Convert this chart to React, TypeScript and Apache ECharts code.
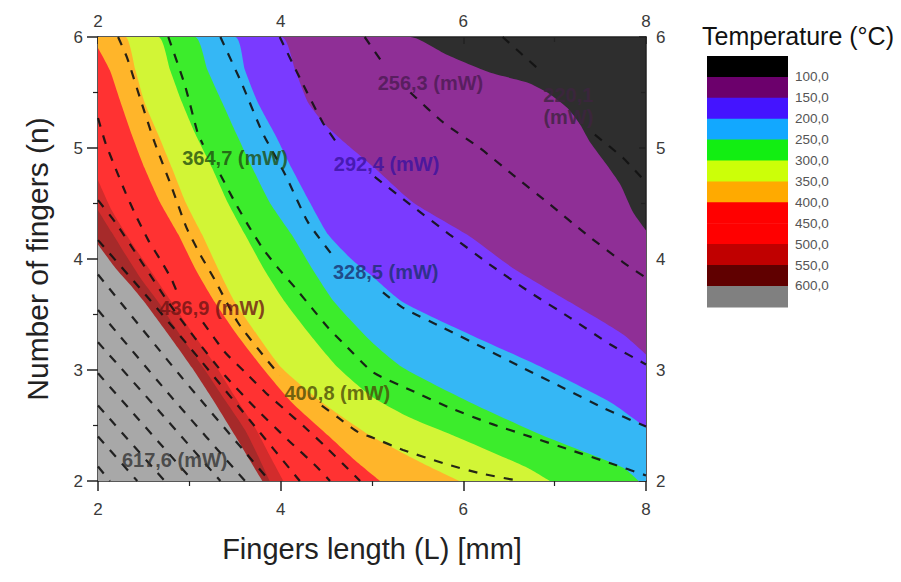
import React, { useEffect, useRef } from 'react';
import * as echarts from 'echarts';

// ---- axis settings ----
const xMin = 2, xMax = 8, xStep = 2;
const yMin = 2, yMax = 6, yStep = 1;

// ---- isotherm boundaries (data coords: [fingers length, number of fingers]) ----
const iso100 = [[2, 6], [5.42, 6], [5.82, 5.84], [6.29, 5.68], [6.70, 5.59], [6.92, 5.50], [7.14, 5.36], [7.28, 5.21], [7.39, 5.05], [7.57, 4.85], [7.72, 4.67], [7.86, 4.42], [8, 4.26]];
const iso150 = [[2, 6], [4.01, 6], [4.16, 5.70], [4.30, 5.41], [4.49, 5.21], [4.70, 5.05], [5.03, 4.82], [5.45, 4.51], [6.04, 4.22], [6.54, 3.92], [7.17, 3.61], [7.75, 3.32], [8, 3.14]];
const iso200 = [[2, 6], [3.50, 6], [3.61, 5.70], [3.75, 5.41], [3.94, 5.12], [4.12, 4.82], [4.32, 4.51], [4.52, 4.22], [4.76, 4.01], [4.98, 3.86], [5.34, 3.61], [6.07, 3.32], [6.87, 3.02], [7.61, 2.71], [8, 2.48]];
const iso250 = [[2, 6], [3.06, 6], [3.20, 5.70], [3.36, 5.41], [3.52, 5.12], [3.69, 4.82], [3.88, 4.51], [4.12, 4.22], [4.34, 3.92], [4.59, 3.61], [5.00, 3.25], [5.34, 3.02], [6.07, 2.71], [6.87, 2.41], [7.75, 2.12], [7.92, 2]];
const iso300 = [[2, 6], [2.66, 6], [2.79, 5.70], [2.92, 5.41], [3.07, 5.12], [3.25, 4.82], [3.42, 4.51], [3.61, 4.22], [3.81, 3.92], [4.05, 3.61], [4.32, 3.32], [4.63, 3.02], [5.00, 2.76], [5.42, 2.57], [5.89, 2.41], [6.70, 2.12], [6.95, 2]];
const iso350 = [[2, 6], [2.30, 6], [2.41, 5.70], [2.51, 5.41], [2.66, 5.12], [2.81, 4.82], [2.96, 4.51], [3.14, 4.22], [3.31, 3.92], [3.50, 3.61], [3.74, 3.32], [4.01, 3.02], [4.45, 2.71], [4.98, 2.41], [5.53, 2.17], [5.96, 2]];
const iso400 = [[2, 5.90], [2.13, 5.70], [2.24, 5.43], [2.37, 5.12], [2.51, 4.82], [2.68, 4.51], [2.88, 4.22], [3.06, 3.92], [3.28, 3.61], [3.52, 3.32], [3.80, 3.02], [4.12, 2.71], [4.52, 2.41], [4.81, 2.19], [5.09, 2]];
const iso500 = [[2, 4.71], [2.15, 4.44], [2.35, 4.17], [2.57, 3.90], [2.79, 3.63], [3.03, 3.34], [3.28, 3.05], [3.50, 2.76], [3.72, 2.48], [3.88, 2.23], [4.03, 2]];
const iso550 = [[2, 4.44], [2.15, 4.24], [2.30, 4.04], [2.48, 3.81], [2.68, 3.59], [2.92, 3.29], [3.17, 3.00], [3.39, 2.73], [3.61, 2.46], [3.75, 2.23], [3.88, 2]];
const iso600 = [[2, 4.13], [2.19, 3.92], [2.35, 3.77], [2.51, 3.61], [2.77, 3.32], [3.03, 3.02], [3.26, 2.73], [3.50, 2.41], [3.66, 2.19], [3.80, 2]];

const bandBoundaries = [iso100, iso150, iso200, iso250, iso300, iso350, iso400, iso500, iso550, iso600];
const coolestColor = '#2e2e2e';
const bandColors = ['#8f2f96', '#7a3aff', '#35b7f5', '#3cec2c', '#d2f536', '#ffb52a', '#ff3232', '#d22c2c', '#a62a2a', '#a8a8a8'];

// ---- dissipated power contour lines (segments, broken where labels sit) ----
const p220 = [[[6.43, 6], [6.62, 5.86], [6.81, 5.72]], [[7.44, 5.12], [7.75, 4.91], [8, 4.69]]];
const p256 = [[[4.92, 6], [5.14, 5.74]], [[5.42, 5.50], [5.78, 5.23], [6.18, 5.00], [6.54, 4.76], [6.95, 4.49], [7.35, 4.22], [7.75, 3.97], [8, 3.83]]];
const p292 = [[[3.99, 6], [4.21, 5.63], [4.46, 5.23], [4.63, 5.03]], [[5.03, 4.74], [5.42, 4.49], [5.85, 4.22], [6.29, 3.95], [6.73, 3.70], [7.17, 3.47], [7.61, 3.23], [8, 3.05]]];
const p328 = [[[3.34, 6], [3.58, 5.57], [3.80, 5.14], [4.05, 4.76], [4.30, 4.33], [4.59, 4.01]], [[5.12, 3.70], [5.34, 3.56], [5.78, 3.38], [6.22, 3.20], [6.65, 3.02], [7.09, 2.84], [7.53, 2.66], [8, 2.49]]];
const p364 = [[[2.77, 6], [2.95, 5.57], [3.09, 5.14], [3.15, 5.03]], [[3.34, 4.76], [3.50, 4.51], [3.64, 4.31], [3.80, 4.10], [3.97, 3.92], [4.16, 3.74], [4.34, 3.56], [4.52, 3.38], [4.70, 3.23], [5.01, 2.98], [5.42, 2.82], [5.85, 2.66], [6.29, 2.52], [6.73, 2.40], [7.17, 2.28], [7.61, 2.16], [8, 2.05]]];
const p400 = [[[2.22, 6], [2.32, 5.81], [2.46, 5.45], [2.62, 5.05], [2.81, 4.64], [2.97, 4.28], [3.12, 4.04], [3.28, 3.81], [3.53, 3.43], [3.83, 3.11], [3.99, 2.95]], [[4.45, 2.68], [4.63, 2.57], [4.85, 2.44], [5.01, 2.39], [5.34, 2.28], [5.78, 2.16], [6.18, 2.07], [6.62, 2]]];
const p436 = [[[2, 5.27], [2.08, 5.05], [2.19, 4.82], [2.30, 4.60], [2.41, 4.40], [2.55, 4.17], [2.70, 3.97], [2.81, 3.81], [2.88, 3.67]], [[3.15, 3.43], [3.39, 3.16], [3.61, 2.98], [3.83, 2.80], [4.05, 2.64], [4.27, 2.48], [4.49, 2.31], [4.70, 2.14], [4.87, 2]]];
const p473 = [[[2, 4.53], [2.19, 4.33], [2.48, 3.97], [2.77, 3.61], [3.06, 3.29], [3.39, 2.95], [3.72, 2.66], [4.08, 2.37], [4.38, 2.14], [4.54, 2]]];
const p509 = [[[2, 4.17], [2.57, 3.63], [3.12, 3.09], [3.66, 2.55], [4.21, 2]]];
const p545 = [[[2, 3.86], [2.90, 2.95], [3.88, 2]]];
const p581 = [[[2, 3.54], [2.79, 2.77], [3.61, 2]]];
const p617 = [[[2, 3.25], [2.68, 2.62], [3.34, 2]]];
const p653 = [[[2, 2.97], [3.04, 2]]];
const p690 = [[[2, 2.68], [2.73, 2]]];
const p726 = [[[2, 2.40], [2.43, 2]]];
const p762 = [[[2, 2.13], [2.13, 2]]];
const powerLines = [p220, p256, p292, p328, p364, p400, p436, p473, p509, p545, p581, p617, p653, p690, p726, p762];

// ---- contour labels ----
const labelTexts = ['617,6 (mW)', '436,9 (mW)', '400,8 (mW)', '364,7 (mW)', '328,5 (mW)', '292,4 (mW)', '256,3 (mW)', '220,1\n(mW)'];
const labelPos = [[2.84, 2.19], [3.25, 3.56], [4.62, 2.79], [3.50, 4.91], [5.15, 3.88], [5.16, 4.86], [5.64, 5.59], [7.15, 5.38]];
const labelColors = ['#333333', '#6e1414', '#4a4a08', '#1f4d10', '#1a2f6e', '#3a12a0', '#4b1a52', '#3e2440'];

// ---- colour scale legend ----
const legendTitle = 'Temperature (°C)';
const legendLevels = ['100,0', '150,0', '200,0', '250,0', '300,0', '350,0', '400,0', '450,0', '500,0', '550,0', '600,0'];
const legendColors = ['#000000', '#6c006c', '#4414ff', '#12a8ff', '#12ee12', '#ccff08', '#ffaa00', '#ff0000', '#ff0000', '#c00000', '#600000', '#808080'];

export default function App() {
  const ref = useRef<HTMLDivElement>(null);

  useEffect(() => {
    if (!ref.current) return;
    const chart = echarts.init(ref.current, undefined, { renderer: 'svg' });

    const series: any[] = [];
    bandBoundaries.forEach((b, i) => {
      series.push({
        type: 'line',
        data: b,
        symbol: 'none',
        silent: true,
        smooth: 0.2,
        lineStyle: { width: 0, opacity: 0 },
        areaStyle: { color: bandColors[i], opacity: 1, origin: 'start' },
        z: 1,
      });
    });
    powerLines.forEach((segs) => {
      segs.forEach((seg) => {
        series.push({
          type: 'line',
          data: seg,
          symbol: 'none',
          silent: true,
          smooth: 0.2,
          lineStyle: { color: '#121212', width: 2.2, type: [9, 9], opacity: 0.9 },
          z: 3,
        });
      });
    });
    series.push({
      type: 'scatter',
      symbolSize: 0,
      silent: true,
      z: 5,
      data: labelTexts.map((t, i) => ({
        value: labelPos[i],
        name: t,
        label: { color: labelColors[i] },
      })),
      label: {
        show: true,
        position: 'inside',
        formatter: '{b}',
        fontFamily: 'Liberation Sans, Arial, sans-serif',
        fontSize: 20,
        fontWeight: 'bold',
        lineHeight: 22,
        align: 'center',
        verticalAlign: 'middle',
      },
    });

    const boxTop = 56, boxH = 20.9, boxX = 707, boxW = 81;
    const graphic: any[] = [
      {
        type: 'text',
        left: 702,
        top: 23,
        style: { text: legendTitle, font: '25px "Liberation Sans", Arial, sans-serif', fill: '#111' },
      },
    ];
    legendColors.forEach((c, i) => {
      graphic.push({
        type: 'rect',
        shape: { x: boxX, y: boxTop + i * boxH, width: boxW, height: boxH + 0.6 },
        style: { fill: c },
      });
    });
    legendLevels.forEach((t, i) => {
      graphic.push({
        type: 'text',
        x: 795,
        y: boxTop + (i + 1) * boxH,
        style: { text: t, font: '13.5px "Liberation Sans", Arial, sans-serif', fill: '#555', verticalAlign: 'middle' },
      });
    });

    const axisLine = { show: true, lineStyle: { color: '#222', width: 1.5 } };
    const labelStyle = { fontSize: 17, color: '#3a3a3a', fontFamily: 'Liberation Sans, Arial, sans-serif' };
    const minor = { show: true, splitNumber: 2, length: 5, lineStyle: { color: '#222', width: 1.2 } };

    chart.setOption({
      animation: false,
      backgroundColor: '#ffffff',
      grid: { left: 98, top: 37, right: 255, bottom: 101, show: true, backgroundColor: coolestColor, borderWidth: 0 },
      xAxis: [
        {
          type: 'value', position: 'bottom', min: xMin, max: xMax, interval: xStep,
          axisLine, axisTick: { show: true, length: 10, lineStyle: { color: '#222', width: 1.5 } },
          minorTick: minor, splitLine: { show: false },
          axisLabel: { ...labelStyle, margin: 20 },
          name: 'Fingers length (L) [mm]', nameLocation: 'middle', nameGap: 53,
          nameTextStyle: { fontSize: 29, color: '#222', fontFamily: 'Liberation Sans, Arial, sans-serif' },
        },
        {
          type: 'value', position: 'top', min: xMin, max: xMax, interval: xStep,
          axisLine, axisTick: { show: true, inside: true, length: 7, lineStyle: { color: '#222', width: 1.5 } },
          minorTick: minor, splitLine: { show: false },
          axisLabel: { ...labelStyle, margin: 7 },
        },
      ],
      yAxis: [
        {
          type: 'value', position: 'left', min: yMin, max: yMax, interval: yStep,
          axisLine, axisTick: { show: true, length: 11, lineStyle: { color: '#222', width: 1.5 } },
          minorTick: minor, splitLine: { show: false },
          axisLabel: { ...labelStyle, margin: 15 },
          name: 'Number of fingers (n)', nameLocation: 'middle', nameGap: 46,
          nameTextStyle: { fontSize: 30, color: '#222', fontFamily: 'Liberation Sans, Arial, sans-serif' },
        },
        {
          type: 'value', position: 'right', min: yMin, max: yMax, interval: yStep,
          axisLine, axisTick: { show: true, inside: true, length: 7, lineStyle: { color: '#222', width: 1.5 } },
          minorTick: minor, splitLine: { show: false },
          axisLabel: { ...labelStyle, margin: 10 },
        },
      ],
      series,
      graphic,
    });

    return () => chart.dispose();
  }, []);

  return (
    <div
      ref={ref}
      style={{ position: 'fixed', left: 0, top: 0, width: 901, height: 582, background: '#fff' }}
    />
  );
}
